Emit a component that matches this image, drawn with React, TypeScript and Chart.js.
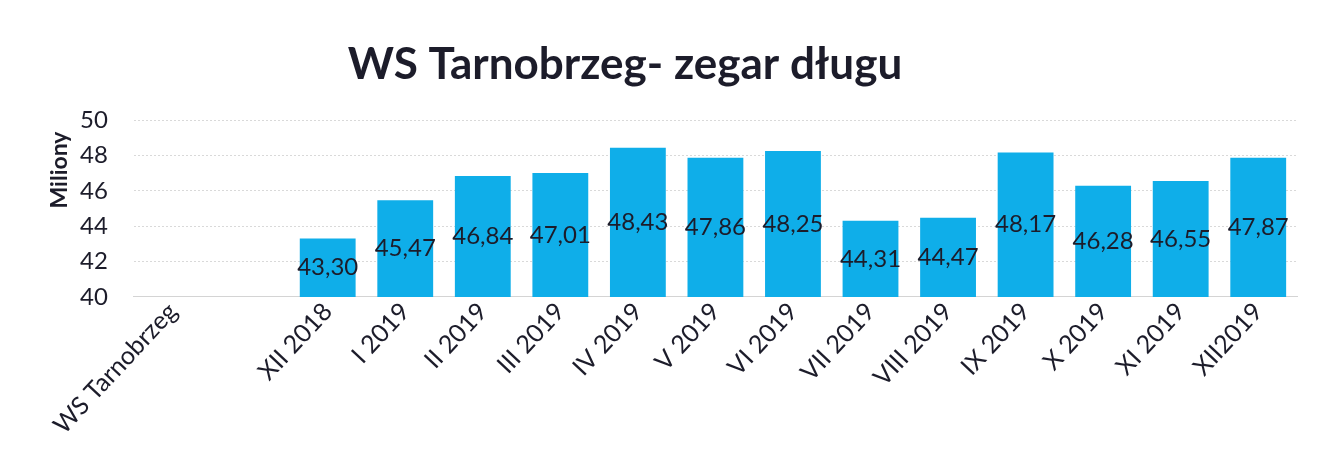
import React, { useEffect, useRef } from "react";
import { Chart, registerables } from "chart.js";

Chart.register(...registerables);

const categories: string[] = [
  "WS Tarnobrzeg", "", "XII 2018", "I 2019", "II 2019", "III 2019", "IV 2019", "V 2019",
  "VI 2019", "VII 2019", "VIII 2019", "IX 2019", "X 2019", "XI 2019", "XII2019",
];
const debtValues: (number | null)[] = [
  null, null, 43.3, 45.47, 46.84, 47.01, 48.43, 47.86, 48.25, 44.31, 44.47, 48.17, 46.28, 46.55, 47.87,
];
const yTicks: number[] = [40, 42, 44, 46, 48, 50];
const titleText = "WS Tarnobrzeg- zegar długu";
const yTitle = "Miliony";

const FONT = "Lato, 'Open Sans', sans-serif";

const fmt = (v: number) => v.toFixed(2).replace(".", ",");

const overlayPlugin = {
  id: "overlayTexts",
  afterDraw(chart: any) {
    const ctx = chart.ctx;
    const xs = chart.scales.x;
    const ys = chart.scales.y;
    ctx.save();
    ctx.font = `24px ${FONT}`;
    ctx.fillStyle = "#1c1c2a";
    ctx.textAlign = "center";
    ctx.textBaseline = "middle";
    const basePx = ys.getPixelForValue(yTicks[0]);
    debtValues.forEach((v, i) => {
      if (v === null) return;
      const px = xs.getPixelForValue(i);
      const py = ys.getPixelForValue(v);
      ctx.fillText(fmt(v), px, (py + basePx) / 2);
    });
    ctx.font = `bold 44px ${FONT}`;
    ctx.fillText(titleText, 617, 57);
    ctx.translate(52, 162);
    ctx.rotate(-Math.PI / 2);
    ctx.font = `bold 23px ${FONT}`;
    ctx.fillText(yTitle, 0, 0);
    ctx.restore();
  },
};

export default function App() {
  const ref = useRef<HTMLCanvasElement | null>(null);
  useEffect(() => {
    if (!ref.current) return;
    const chart = new Chart(ref.current, {
      type: "bar",
      data: {
        labels: categories,
        datasets: [
          {
            data: debtValues,
            backgroundColor: "#0faee9",
            barPercentage: 0.72,
            categoryPercentage: 1,
          },
        ],
      },
      options: {
        animation: false,
        responsive: true,
        maintainAspectRatio: false,
        layout: { padding: { top: 112, right: 19, left: 46, bottom: 15 } },
        plugins: {
          legend: { display: false },
          tooltip: { enabled: false },
          title: { display: false },
        },
        scales: {
          x: {
            grid: { display: false, drawTicks: false },
            border: { color: "#d4d4d4" },
            afterFit(axis: any) {
              axis.paddingLeft = 0;
              axis.paddingRight = 0;
            },
            ticks: {
              minRotation: 47,
              maxRotation: 47,
              autoSkip: false,
              color: "#1c1c2a",
              font: { family: FONT, size: 25 },
              padding: 0,
            },
          },
          y: {
            min: 40,
            max: 50,
            afterBuildTicks(axis: any) {
              axis.ticks = yTicks.map((v) => ({ value: v }));
            },
            grid: {
              color: "#d9d9d9",
              drawTicks: false,
            },
            border: { display: false, dash: [2, 2] },
            title: { display: false },
            ticks: {
              color: "#1c1c2a",
              font: { family: FONT, size: 24 },
              padding: 26,
            },
          },
        },
      },
      plugins: [overlayPlugin],
    } as any);
    return () => chart.destroy();
  }, []);
  return (
    <div style={{ width: 1308, height: 447, position: "relative" }}>
      <canvas ref={ref} />
    </div>
  );
}
